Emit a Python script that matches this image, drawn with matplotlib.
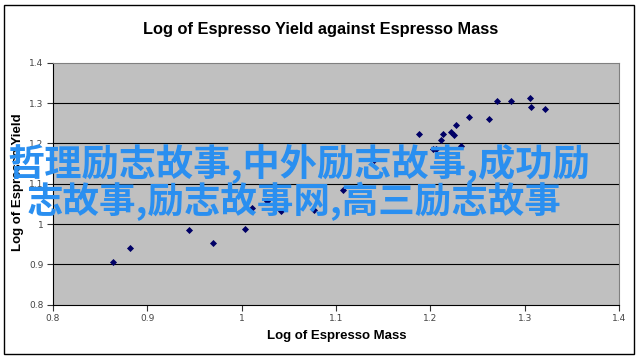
import matplotlib.pyplot as plt
from matplotlib.patches import Rectangle

# log of espresso mass / log of espresso yield
log_mass = [0.864, 0.8815, 0.944, 0.970, 1.004, 1.0113, 1.0268, 1.0413, 1.0772,
            1.1079, 1.140, 1.1884, 1.2024, 1.2060, 1.2109, 1.2130, 1.2222, 1.2254,
            1.2272, 1.2328, 1.2405, 1.2621, 1.2706, 1.2854, 1.3055, 1.3072, 1.3217]
log_yield = [0.906, 0.941, 0.985, 0.954, 0.987, 1.039, 1.057, 1.033, 1.034,
             1.084, 1.158, 1.224, 1.186, 1.186, 1.208, 1.223, 1.228, 1.220,
             1.245, 1.193, 1.265, 1.260, 1.305, 1.304, 1.313, 1.289, 1.286]

x_ticks = [0.8, 0.9, 1.0, 1.1, 1.2, 1.3, 1.4]
y_ticks = [0.8, 0.9, 1.0, 1.1, 1.2, 1.3, 1.4]
x_tick_labels = ['0.8', '0.9', '1', '1.1', '1.2', '1.3', '1.4']
y_tick_labels = ['0.8', '0.9', '1', '1.1', '1.2', '1.3', '1.4']

title = 'Log of Espresso Yield against Espresso Mass'
x_label = 'Log of Espresso Mass'
y_label = 'Log of Espresso Yield'
overlay_lines = ['哲理励志故事,中外励志故事,成功励', '志故事,励志故事网,高三励志故事']

W, H = 640, 359
fig = plt.figure(figsize=(6.4, 3.59), dpi=100)
fig.patch.set_facecolor('white')

# outer chart border
fig.patches.append(Rectangle((4 / W, 1 - 354 / H), 630 / W, 349 / H, transform=fig.transFigure,
                             fill=False, edgecolor='black', linewidth=1.0))

ax = fig.add_axes([53 / W, 1 - 304.7 / H, 566 / W, 242 / H])
ax.set_facecolor('#c0c0c0')
ax.set_xlim(0.8, 1.4)
ax.set_ylim(0.8, 1.4)
for v in y_ticks[1:-1]:
    ax.axhline(v, color='black', linewidth=0.8, zorder=1)

ax.scatter(log_mass, log_yield, marker='D', s=13, color='#000066', zorder=3, linewidths=0)

ax.set_xticks(x_ticks)
ax.set_xticklabels(x_tick_labels)
ax.set_yticks(y_ticks)
ax.set_yticklabels(y_tick_labels)
ax.tick_params(axis='both', direction='out', length=4, width=0.8, labelsize=6.5,
               labelcolor='#444444', color='#333333', pad=3)
for s in ['left', 'bottom']:
    ax.spines[s].set_color('black')
    ax.spines[s].set_linewidth(0.8)
for s in ['top', 'right']:
    ax.spines[s].set_color('#808080')
    ax.spines[s].set_linewidth(0.8)

fig.text(321 / W, 1 - 29.5 / H, title, ha='center', va='center', fontsize=11.8,
         fontweight='bold', family='Liberation Sans')
fig.text(337 / W, 1 - 336.5 / H, x_label, ha='center', va='center', fontsize=9.5,
         fontweight='bold', family='Liberation Sans')
fig.text(18.5 / W, 1 - 182.5 / H, y_label, ha='center', va='center', rotation=90,
         fontsize=9.5, fontweight='bold', family='Liberation Sans')

# blue watermark text on top of the chart
fig.text(7 / W, 1 - 164.5 / H, overlay_lines[0], ha='left', va='center', fontsize=26.8,
         fontweight='bold', color='#2a8ff0', family=['Noto Sans CJK SC', 'DejaVu Sans'])
fig.text(27 / W, 1 - 201.5 / H, overlay_lines[1], ha='left', va='center', fontsize=26.3,
         fontweight='bold', color='#2a8ff0', family=['Noto Sans CJK SC', 'DejaVu Sans'])

fig.savefig('out.png', dpi=100)
